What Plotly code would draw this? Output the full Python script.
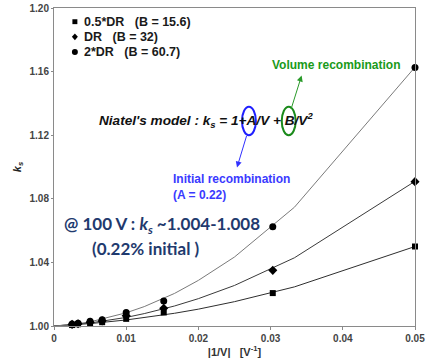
import plotly.graph_objects as go

# Measured collection efficiency correction k_s vs 1/V for three dose rates
inv_v = [0.0025, 0.00333, 0.005, 0.00667, 0.01, 0.0152, 0.0303, 0.05]
ks_half_dr = [1.0006, 1.0011, 1.0018, 1.0024, 1.0045, 1.0085, 1.0207, 1.0500]
ks_dr = [1.0010, 1.0014, 1.0024, 1.0032, 1.0065, 1.0112, 1.0350, 1.0908]
ks_double_dr = [1.0012, 1.0017, 1.0030, 1.0040, 1.0085, 1.0158, 1.0625, 1.1625]

# Niatel model curves sampled at the fit voltages
fit_x = [0.0, 0.0025, 0.005, 0.01, 0.0125, 0.0167, 0.02, 0.025, 0.0333, 0.05]
fit_half_dr = [1.0, 1.0007, 1.0015, 1.0038, 1.0052, 1.0080, 1.0106, 1.0153, 1.0246, 1.0500]
fit_dr = [1.0, 1.0008, 1.0019, 1.0054, 1.0078, 1.0126, 1.0172, 1.0255, 1.0429, 1.0910]
fit_double_dr = [1.0, 1.0009, 1.0026, 1.0083, 1.0122, 1.0205, 1.0287, 1.0434, 1.0747, 1.1628]

series_names = ["0.5*DR&nbsp;&nbsp;&nbsp;(B = 15.6)", "DR&nbsp;&nbsp;&nbsp;(B = 32)", "2*DR&nbsp;&nbsp;&nbsp;(B = 60.7)"]
series_symbols = ["square", "diamond", "circle"]

x_tickvals = [0, 0.01, 0.02, 0.03, 0.04, 0.05]
x_ticktext = ["<b>0</b>", "<b>0.01</b>", "<b>0.02</b>", "<b>0.03</b>", "<b>0.04</b>", "<b>0.05</b>"]
y_tickvals = [1.00, 1.04, 1.08, 1.12, 1.16, 1.20]
y_ticktext = ["<b>1.00</b>", "<b>1.04</b>", "<b>1.08</b>", "<b>1.12</b>", "<b>1.16</b>", "<b>1.20</b>"]

W, H = 427, 358
ML, MR, MT, MB = 54, 10, 2, 31
PW, PH = W - ML - MR, H - MT - MB


def pxx(x):
    return (x - ML) / PW


def pxy(y):
    return (H - MB - y) / PH


fig = go.Figure()

line_colors = ["#2e2e2e", "#3a3a3a", "#7a7a7a"]
for fy, col in zip([fit_half_dr, fit_dr, fit_double_dr], line_colors):
    fig.add_trace(go.Scatter(x=fit_x, y=fy, mode="lines", line=dict(color=col, width=1),
                             showlegend=False, hoverinfo="skip"))

marker_sizes = [6, 7, 7]
for ys, sym, name, ms in zip([ks_half_dr, ks_dr, ks_double_dr], series_symbols, series_names, marker_sizes):
    fig.add_trace(go.Scatter(x=inv_v, y=ys, mode="markers", name=name,
                             marker=dict(symbol=sym, size=ms, color="black"),
                             cliponaxis=False, showlegend=False))

shapes = []
annotations = []

# Legend block (symbol + label)
leg_rows = [16, 31.5, 47]
for i, (row, name) in enumerate(zip(leg_rows, series_names)):
    cx = 75
    if series_symbols[i] == "square":
        shapes.append(dict(type="rect", xref="paper", yref="paper",
                           x0=pxx(cx - 2.5), x1=pxx(cx + 2.5), y0=pxy(row + 2.5), y1=pxy(row - 2.5),
                           fillcolor="black", line=dict(width=0)))
    elif series_symbols[i] == "diamond":
        path = "M {x0},{yc} L {xc},{y0} L {x1},{yc} L {xc},{y1} Z".format(
            x0=pxx(cx - 3), x1=pxx(cx + 3), xc=pxx(cx), yc=pxy(row), y0=pxy(row - 3.5), y1=pxy(row + 3.5))
        shapes.append(dict(type="path", xref="paper", yref="paper", path=path,
                           fillcolor="black", line=dict(width=0)))
    else:
        shapes.append(dict(type="circle", xref="paper", yref="paper",
                           x0=pxx(cx - 3), x1=pxx(cx + 3), y0=pxy(row + 3), y1=pxy(row - 3),
                           fillcolor="black", line=dict(width=0)))
    annotations.append(dict(text="<b>" + name + "</b>", xref="paper", yref="paper",
                            x=pxx(82), y=pxy(row), xanchor="left", yanchor="middle", showarrow=False,
                            font=dict(family="Arial", size=12.5, color="#1a1a1a")))

# Model equation
annotations.append(dict(text="<b><i>Niatel's model : k<sub>s</sub> = 1+A/V + B/V<sup>2</sup></i></b>",
                        xref="paper", yref="paper", x=pxx(97), y=pxy(116), xanchor="left", yanchor="middle",
                        showarrow=False, font=dict(family="Arial", size=13.6, color="#111111")))

# Circles around A and B
shapes.append(dict(type="circle", xref="paper", yref="paper",
                   x0=pxx(243), x1=pxx(257), y0=pxy(132), y1=pxy(103),
                   line=dict(color="#1f1fff", width=2)))
shapes.append(dict(type="circle", xref="paper", yref="paper",
                   x0=pxx(283), x1=pxx(297), y0=pxy(132), y1=pxy(103),
                   line=dict(color="#1a8a1a", width=2)))

# Arrows
annotations.append(dict(text="", xref="paper", yref="paper", x=pxx(238), y=pxy(165),
                        ax=10, ay=-33, showarrow=True, arrowhead=2, arrowsize=1.2, arrowwidth=1,
                        arrowcolor="#3030ff"))
annotations.append(dict(text="", xref="paper", yref="paper", x=pxx(303), y=pxy(71),
                        ax=-11, ay=35, showarrow=True, arrowhead=2, arrowsize=1.2, arrowwidth=1,
                        arrowcolor="#2a9a2a"))

annotations.append(dict(text="<b>Volume recombination</b>", xref="paper", yref="paper",
                        x=pxx(271), y=pxy(60), xanchor="left", yanchor="middle", showarrow=False,
                        font=dict(family="Arial", size=12, color="#1a9a1a")))
annotations.append(dict(text="<b>Initial recombination<br>(A = 0.22)</b>", xref="paper", yref="paper",
                        x=pxx(172), y=pxy(185), xanchor="left", yanchor="middle", align="left",
                        showarrow=False, font=dict(family="Arial", size=12, color="#3a3aff")))

annotations.append(dict(text="<b>@ 100 V : <i>k<sub>s</sub></i> ~1.004-1.008</b>", xref="paper", yref="paper",
                        x=pxx(62), y=pxy(224), xanchor="left", yanchor="middle", showarrow=False,
                        font=dict(family="Lato", size=17, color="#1f3a6e")))
annotations.append(dict(text="<b>(0.22% initial )</b>", xref="paper", yref="paper",
                        x=pxx(90), y=pxy(248), xanchor="left", yanchor="middle", showarrow=False,
                        font=dict(family="Lato", size=17, color="#1f3a6e")))

axis_gray = "#8a8a8a"
tick_font = dict(family="Arial", size=10, color="#444444")

fig.update_layout(
    width=W, height=H,
    margin=dict(l=ML, r=MR, t=MT, b=MB, pad=0),
    paper_bgcolor="white", plot_bgcolor="white",
    showlegend=False,
    shapes=shapes, annotations=annotations,
    xaxis=dict(range=[0, 0.05], tickvals=x_tickvals, ticktext=x_ticktext,
               showgrid=False, zeroline=False, showline=True, linecolor=axis_gray, linewidth=1,
               mirror=True, ticks="outside", ticklen=3, tickcolor=axis_gray,
               tickfont=tick_font, ticklabeloverflow="allow",
               title=dict(text="<b>|1/V|&nbsp;&nbsp;&nbsp;[V<sup>-1</sup>]</b>", standoff=4,
                          font=dict(family="Arial", size=11, color="#333333"))),
    yaxis=dict(range=[1.0, 1.2], tickvals=y_tickvals, ticktext=y_ticktext,
               showgrid=False, zeroline=False, showline=True, linecolor=axis_gray, linewidth=1,
               mirror=True, ticks="outside", ticklen=2, tickcolor=axis_gray,
               tickfont=tick_font, ticklabeloverflow="allow",
               title=dict(text="<b><i>k<sub>s</sub></i></b>", standoff=5,
                          font=dict(family="Arial", size=11, color="#222222"))),
    xaxis2=dict(overlaying="x", side="top", range=[0, 0.05], tickvals=x_tickvals,
                showticklabels=False, ticks="inside", ticklen=3, tickcolor=axis_gray,
                showgrid=False, zeroline=False, showline=False, anchor="y"),
    yaxis2=dict(overlaying="y", side="right", range=[1.0, 1.2], tickvals=y_tickvals,
                showticklabels=False, ticks="inside", ticklen=3, tickcolor=axis_gray,
                showgrid=False, zeroline=False, showline=False, anchor="x"),
)

fig.write_html("out.html")
